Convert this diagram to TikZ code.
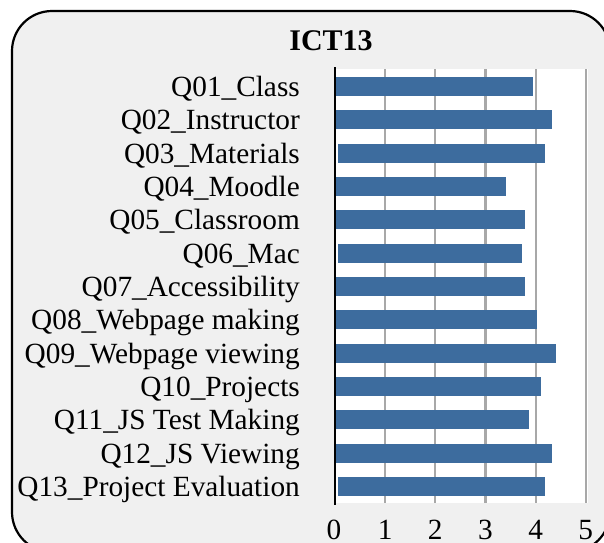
\documentclass[tikz,border=0pt]{standalone}
\usepackage{fontspec}
\setmainfont{Liberation Serif}
\usepackage{tikz}
\definecolor{panel}{RGB}{240,240,240}
\definecolor{barblue}{RGB}{61,108,158}
\definecolor{gridgray}{RGB}{168,168,168}

\begin{document}
\begin{tikzpicture}[x=1pt,y=1pt,yscale=-1,xscale=1,
  qbar/.style={fill=barblue,draw=none},
  qlabel/.style={anchor=base east,inner sep=0pt,font=\fontsize{29.3}{33}\selectfont},
  ticklabel/.style={anchor=base,inner sep=0pt,font=\fontsize{29.3}{33}\selectfont},
  gridline/.style={draw=gridgray,line width=2.2pt}]
\path[use as bounding box,clip] (0,0) rectangle (604,542);

%Shape: Rounded Rect [frame]
\draw [line width=2.2pt,fill=panel,rounded corners=40pt] (12,11) rectangle (610,552);
%Shape: Rectangle [plot area]
\fill [white] (335,69) rectangle (588,503);

% grid lines
\draw [gridline] (385.2,69) -- (385.2,503);
\draw [gridline] (435.3,69) -- (435.3,503);
\draw [gridline] (485.5,69) -- (485.5,503);
\draw [gridline] (535.6,69) -- (535.6,503);
\draw [gridline] (585.8,69) -- (585.8,503);

% bars
\fill [qbar] (336,77) rectangle (533,96);
\fill [qbar] (336,110) rectangle (552,129);
\fill [qbar] (338,143.5) rectangle (545,162.5);
\fill [qbar] (336,177) rectangle (506,196);
\fill [qbar] (336,210) rectangle (525,229);
\fill [qbar] (338,243.5) rectangle (522,262.5);
\fill [qbar] (336,277) rectangle (525,296);
\fill [qbar] (336,310) rectangle (537,329);
\fill [qbar] (336,343.5) rectangle (556,362.5);
\fill [qbar] (336,377) rectangle (541,396);
\fill [qbar] (336,410) rectangle (529,429);
\fill [qbar] (336,443.5) rectangle (552,462.5);
\fill [qbar] (338,477) rectangle (545,496);

%Straight Lines [axis]
\draw [line width=2.2pt] (335,67) -- (335,505);

% Text Node
\draw (331,50.5) node (title) [anchor=base,inner sep=0pt,font=\fontsize{30}{34}\selectfont\bfseries] {ICT13};
% Text Node
\draw (300,96.3) node (q01) [qlabel] {Q01\_Class};
\draw (300,129.6) node (q02) [qlabel] {Q02\_Instructor};
\draw (300,163) node (q03) [qlabel] {Q03\_Materials};
\draw (300,196.3) node (q04) [qlabel] {Q04\_Moodle};
\draw (300,229.7) node (q05) [qlabel] {Q05\_Classroom};
\draw (300,263) node (q06) [qlabel] {Q06\_Mac};
\draw (300,296.4) node (q07) [qlabel] {Q07\_Accessibility};
\draw (300,329.7) node (q08) [qlabel] {Q08\_Webpage making};
\draw (300,363.1) node (q09) [qlabel] {Q09\_Webpage viewing};
\draw (300,396.4) node (q10) [qlabel] {Q10\_Projects};
\draw (300,429.8) node (q11) [qlabel] {Q11\_JS Test Making};
\draw (300,463.1) node (q12) [qlabel] {Q12\_JS Viewing};
\draw (300,496.5) node (q13) [qlabel] {Q13\_Project Evaluation};
% Text Node
\draw (334,539.5) node (t0) [ticklabel] {0};
\draw (385.2,539.5) node (t1) [ticklabel] {1};
\draw (435.3,539.5) node (t2) [ticklabel] {2};
\draw (485.5,539.5) node (t3) [ticklabel] {3};
\draw (535.6,539.5) node (t4) [ticklabel] {4};
\draw (585.8,539.5) node (t5) [ticklabel] {5};

\end{tikzpicture}
\end{document}
